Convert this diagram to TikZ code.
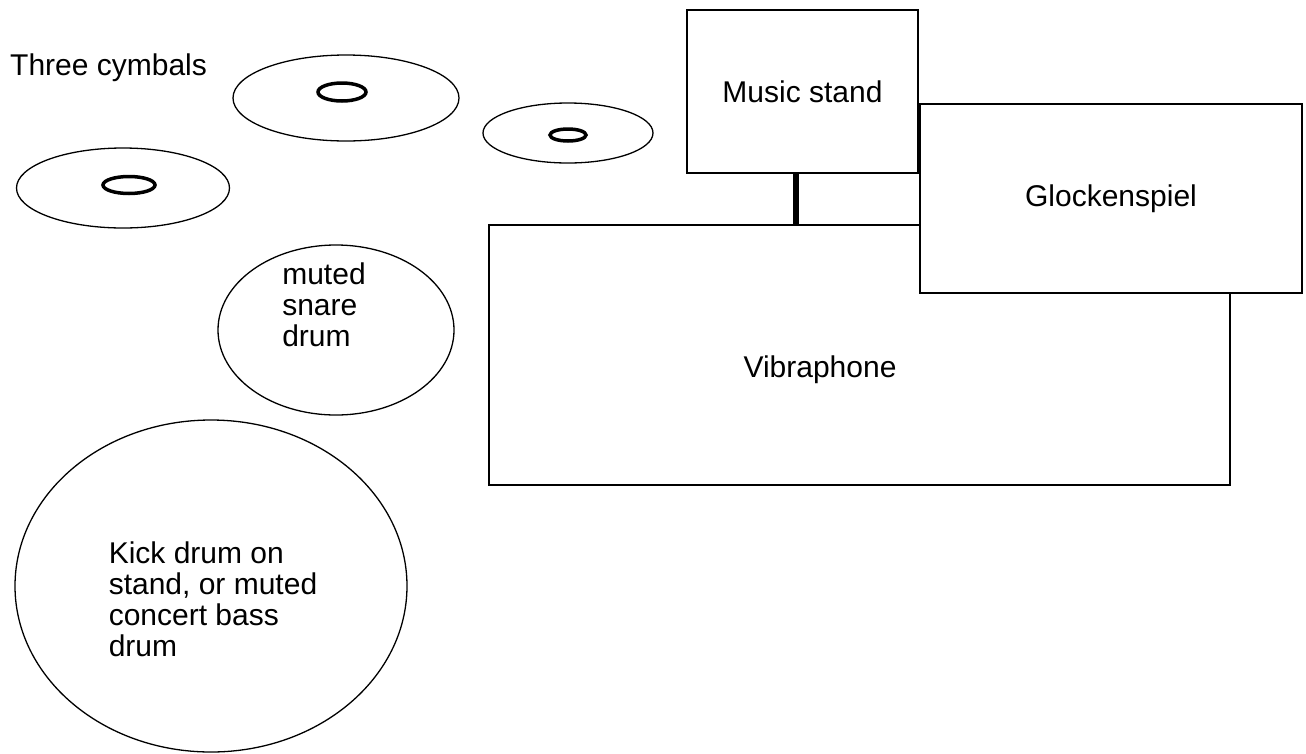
\documentclass[tikz,border=0pt]{standalone}
\usepackage{fontspec}
\setmainfont{Liberation Sans}
\usepackage{tikz}
\usetikzlibrary{shapes.geometric, calc}
\tikzset{
  cymbal/.style={ellipse, draw=black, line width=1.3pt, inner sep=0pt},
  bell/.style={ellipse, draw=black, line width=3.5pt, inner sep=0pt},
  drum/.style={ellipse, draw=black, line width=1.3pt, inner sep=0pt},
  box/.style={rectangle, draw=black, fill=white, line width=2pt, inner sep=0pt, align=center, font=\fontsize{30}{31}\selectfont},
  txt/.style={inner sep=0pt, align=left, font=\fontsize{30}{31}\selectfont},
  post/.style={line width=6pt},
}

\begin{document}
\begin{tikzpicture}[x=1pt, y=-1pt]
\useasboundingbox (0,0) rectangle (1306,753);
% cymbals
\node[txt, anchor=base west] (cymtxt) at (10,75) {Three cymbals};
\node[cymbal, minimum width=226, minimum height=86] (cymA) at (346,98) {};
\node[bell, minimum width=48, minimum height=18] (bellA) at (342,92) {};
\node[cymbal, minimum width=170, minimum height=60] (cymB) at (568,133) {};
\node[bell, minimum width=36, minimum height=12] (bellB) at (568,135) {};
\node[cymbal, minimum width=213, minimum height=80] (cymC) at (123,188) {};
\node[bell, minimum width=52, minimum height=17] (bellC) at (129,185) {};
% drums
\node[drum, minimum width=236, minimum height=170] (snare) at (336,330) {};
\node[txt] (snaretxt) at (324,305) {muted\\snare\\drum};
\node[drum, minimum width=392, minimum height=332] (kick) at (211,586) {};
\node[txt] (kicktxt) at (213,599) {Kick drum on\\stand, or muted\\concert bass\\drum};
% mallets
\node[box, minimum width=741, minimum height=260] (vib) at (859.5,355) {};
\node[txt] (vibtxt) at (820,370) {Vibraphone};
\node[box, minimum width=231, minimum height=163] (stand) at (802.5,91.5) {Music stand};
\node[box, minimum width=382, minimum height=189] (glock) at (1111,198.5) {Glockenspiel};
\coordinate (leg) at ($(stand.south)+(-7,0)$);
\draw[post] (leg) -- (leg |- vib.north);
\end{tikzpicture}
\end{document}
